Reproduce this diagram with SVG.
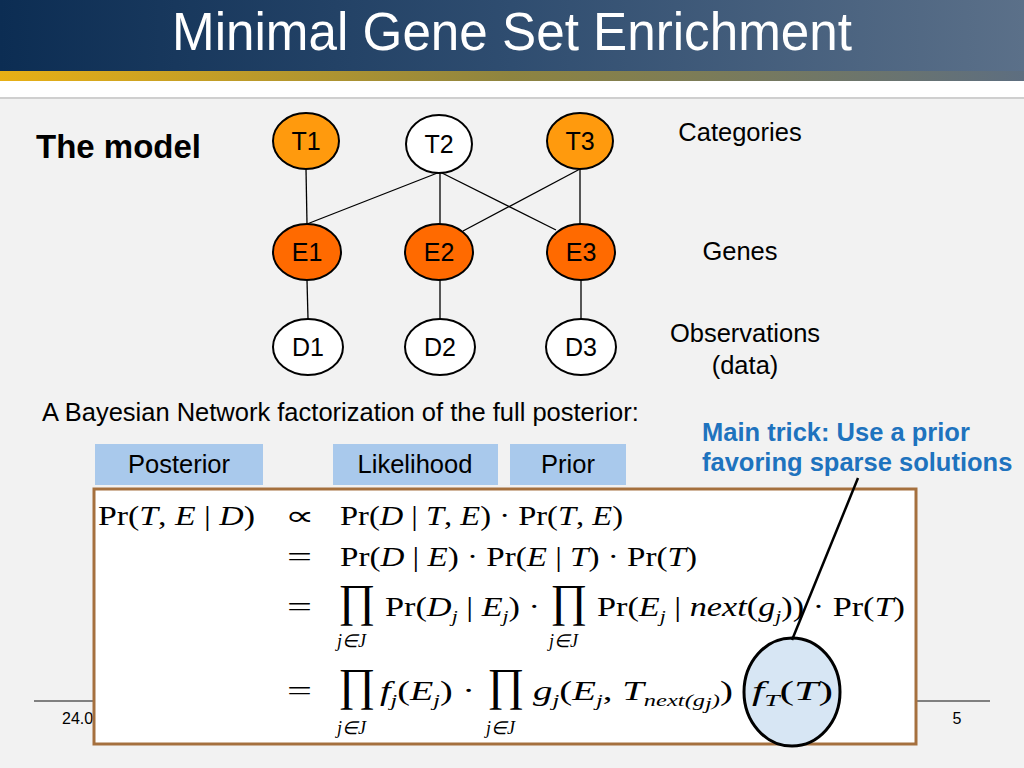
<svg xmlns="http://www.w3.org/2000/svg" width="1024" height="768" viewBox="0 0 1024 768">
<defs>
<linearGradient id="hdr" x1="0" y1="0" x2="1" y2="0">
<stop offset="0" stop-color="#0c2d53"/><stop offset="0.5" stop-color="#2f4d70"/><stop offset="1" stop-color="#5b7089"/>
</linearGradient>
<linearGradient id="gold" x1="0" y1="0" x2="1" y2="0">
<stop offset="0" stop-color="#e8b015"/><stop offset="0.5" stop-color="#8e8440"/><stop offset="1" stop-color="#5d6e80"/>
</linearGradient>
<style>
.sans{font-family:"Liberation Sans",Arial,sans-serif}
.node ellipse{stroke:#000;stroke-width:2}
.node text{font-family:"Liberation Sans",Arial,sans-serif;font-size:25px;text-anchor:middle;fill:#000}
.edge{stroke:#000;stroke-width:1.3;fill:none}
.lbl{font-family:"Liberation Sans",Arial,sans-serif;font-size:25.5px;fill:#000}
.box rect{fill:#a9c9ec}
.box text{font-family:"Liberation Sans",Arial,sans-serif;font-size:25.5px;text-anchor:middle;fill:#000}
.m{font-family:"Liberation Serif","Times New Roman",serif;font-size:27px;fill:#000}
.i{font-style:italic}
.sub{font-size:17px;font-style:italic}
.big{font-family:"Liberation Serif","Times New Roman",serif;font-size:46px;fill:#000}
.lim{font-family:"Liberation Serif","Times New Roman",serif;font-size:18px;font-style:italic;fill:#000}
.trick{font-family:"Liberation Sans",Arial,sans-serif;font-size:25.5px;font-weight:bold;fill:#1e73be}
</style>
</defs>
<rect width="1024" height="768" fill="#f2f2f2"/>
<rect x="0" y="0" width="1024" height="71" fill="url(#hdr)"/>
<rect x="0" y="71" width="1024" height="10" fill="url(#gold)"/>
<rect x="0" y="81" width="1024" height="16" fill="#ffffff"/>
<rect x="0" y="97" width="1024" height="2" fill="#cfcfcf"/>
<text x="512" y="50" font-family="'Liberation Sans Narrow','Liberation Sans',Arial,sans-serif" font-size="53" fill="#ffffff" text-anchor="middle" textLength="680" lengthAdjust="spacingAndGlyphs">Minimal Gene Set Enrichment</text>

<text x="36" y="158" class="sans" font-size="33" font-weight="bold" fill="#000">The model</text>

<g id="connectors">
<line class="edge" x1="306" y1="169" x2="307" y2="224"/>
<line class="edge" x1="440" y1="172" x2="307" y2="224"/>
<line class="edge" x1="440" y1="172" x2="440" y2="224"/>
<line class="edge" x1="440" y1="172" x2="556" y2="230"/>
<line class="edge" x1="580" y1="169" x2="463" y2="231"/>
<line class="edge" x1="580" y1="169" x2="580" y2="224"/>
<line class="edge" x1="307" y1="280" x2="308" y2="319"/>
<line class="edge" x1="440" y1="280" x2="440" y2="319"/>
<line class="edge" x1="581" y1="280" x2="581" y2="319"/>
</g>

<g id="T1" class="node"><ellipse cx="306" cy="141" rx="33" ry="28" fill="#ff9a0d"/><text x="306" y="150">T1</text></g>
<g id="T2" class="node"><ellipse cx="439" cy="144" rx="33" ry="29" fill="#ffffff"/><text x="439" y="153">T2</text></g>
<g id="T3" class="node"><ellipse cx="580" cy="141" rx="33" ry="28" fill="#ff9a0d"/><text x="580" y="150">T3</text></g>
<g id="E1" class="node"><ellipse cx="307" cy="252" rx="34" ry="28" fill="#ff6a00"/><text x="307" y="261">E1</text></g>
<g id="E2" class="node"><ellipse cx="439" cy="252" rx="34" ry="28" fill="#ff6a00"/><text x="439" y="261">E2</text></g>
<g id="E3" class="node"><ellipse cx="581" cy="252" rx="34" ry="28" fill="#ff6a00"/><text x="581" y="261">E3</text></g>
<g id="D1" class="node"><ellipse cx="308" cy="347" rx="35" ry="28" fill="#ffffff"/><text x="308" y="356">D1</text></g>
<g id="D2" class="node"><ellipse cx="440" cy="347" rx="35" ry="28" fill="#ffffff"/><text x="440" y="356">D2</text></g>
<g id="D3" class="node"><ellipse cx="581" cy="347" rx="35" ry="28" fill="#ffffff"/><text x="581" y="356">D3</text></g>

<text class="lbl" x="740" y="141" text-anchor="middle">Categories</text>
<text class="lbl" x="740" y="260" text-anchor="middle">Genes</text>
<text class="lbl" x="745" y="342" text-anchor="middle">Observations</text>
<text class="lbl" x="745" y="374" text-anchor="middle">(data)</text>

<text class="lbl" x="42" y="421">A Bayesian Network factorization of the full posterior:</text>

<text class="trick" x="702" y="441">Main trick: Use a prior</text>
<text class="trick" x="702" y="471">favoring sparse solutions</text>

<g id="posterior" class="box"><rect x="95" y="444" width="168" height="41"/><text x="179" y="473">Posterior</text></g>
<g id="likelihood" class="box"><rect x="333" y="444" width="165" height="41"/><text x="415" y="473">Likelihood</text></g>
<g id="prior" class="box"><rect x="510" y="444" width="116" height="41"/><text x="568" y="473">Prior</text></g>

<line x1="34" y1="701" x2="100" y2="701" stroke="#808080" stroke-width="2"/>
<line x1="910" y1="701" x2="990" y2="701" stroke="#808080" stroke-width="2"/>
<text x="62" y="724" class="sans" font-size="16" fill="#000">24.0</text>
<text x="957" y="724" class="sans" font-size="16" fill="#000" text-anchor="middle">5</text>

<g id="formula">
<rect x="94" y="489" width="822" height="255" fill="#ffffff" stroke="#a5703e" stroke-width="3"/>
<text class="m" x="98" y="525" textLength="157" lengthAdjust="spacingAndGlyphs">Pr(<tspan class="i">T</tspan>, <tspan class="i">E</tspan> | <tspan class="i">D</tspan>)</text>
<text class="m" x="285" y="525" textLength="29" lengthAdjust="spacingAndGlyphs">∝</text>
<text class="m" x="340" y="525" textLength="283" lengthAdjust="spacingAndGlyphs">Pr(<tspan class="i">D</tspan> | <tspan class="i">T</tspan>, <tspan class="i">E</tspan>) · Pr(<tspan class="i">T</tspan>, <tspan class="i">E</tspan>)</text>

<text class="m" x="287" y="566" textLength="25" lengthAdjust="spacingAndGlyphs">=</text>
<text class="m" x="340" y="566" textLength="357" lengthAdjust="spacingAndGlyphs">Pr(<tspan class="i">D</tspan> | <tspan class="i">E</tspan>) · Pr(<tspan class="i">E</tspan> | <tspan class="i">T</tspan>) · Pr(<tspan class="i">T</tspan>)</text>

<text class="m" x="287" y="616" textLength="25" lengthAdjust="spacingAndGlyphs">=</text>
<text class="big" x="338" y="616" textLength="37" lengthAdjust="spacingAndGlyphs">∏</text>
<text class="lim" x="337" y="647">j∈J</text>
<text class="m" x="385" y="616" textLength="155" lengthAdjust="spacingAndGlyphs">Pr(<tspan class="i">D</tspan><tspan class="sub" dy="6">j</tspan><tspan dy="-6"> | </tspan><tspan class="i">E</tspan><tspan class="sub" dy="6">j</tspan><tspan dy="-6">) ·</tspan></text>
<text class="big" x="550" y="616" textLength="37" lengthAdjust="spacingAndGlyphs">∏</text>
<text class="lim" x="549" y="647">j∈J</text>
<text class="m" x="597" y="616" textLength="308" lengthAdjust="spacingAndGlyphs">Pr(<tspan class="i">E</tspan><tspan class="sub" dy="6">j</tspan><tspan dy="-6"> | </tspan><tspan class="i">next</tspan>(<tspan class="i">g</tspan><tspan class="sub" dy="6">j</tspan><tspan dy="-6">)) · Pr(</tspan><tspan class="i">T</tspan>)</text>

<text class="m" x="287" y="700" textLength="25" lengthAdjust="spacingAndGlyphs">=</text>
<text class="big" x="338" y="700" textLength="37" lengthAdjust="spacingAndGlyphs">∏</text>
<text class="lim" x="337" y="734">j∈J</text>
<text class="m" x="380" y="700" textLength="95" lengthAdjust="spacingAndGlyphs"><tspan class="i">f</tspan><tspan class="sub" dy="6">j</tspan><tspan dy="-6">(</tspan><tspan class="i">E</tspan><tspan class="sub" dy="6">j</tspan><tspan dy="-6">) ·</tspan></text>
<text class="big" x="487" y="700" textLength="37" lengthAdjust="spacingAndGlyphs">∏</text>
<text class="lim" x="486" y="734">j∈J</text>
<text class="m" x="533" y="700" textLength="200" lengthAdjust="spacingAndGlyphs"><tspan class="i">g</tspan><tspan class="sub" dy="6">j</tspan><tspan dy="-6">(</tspan><tspan class="i">E</tspan><tspan class="sub" dy="6">j</tspan><tspan dy="-6">, </tspan><tspan class="i">T</tspan><tspan class="sub" dy="6">next(g</tspan><tspan class="sub" dy="3" font-size="12">j</tspan><tspan class="sub" dy="-3">)</tspan><tspan dy="-6">)</tspan></text>
</g>

<g id="prior-ellipse">
<ellipse cx="792" cy="692" rx="48" ry="54" fill="#d7e6f4" stroke="#000" stroke-width="3"/>
<text class="m" x="752" y="700" textLength="81" lengthAdjust="spacingAndGlyphs"><tspan class="i">f</tspan><tspan class="sub" dy="6">T</tspan><tspan dy="-6">(</tspan><tspan class="i">T</tspan>)</text>
</g>

<g id="pointer">
<line x1="858" y1="478" x2="792" y2="640" stroke="#000" stroke-width="2.5"/>
</g>
</svg>
